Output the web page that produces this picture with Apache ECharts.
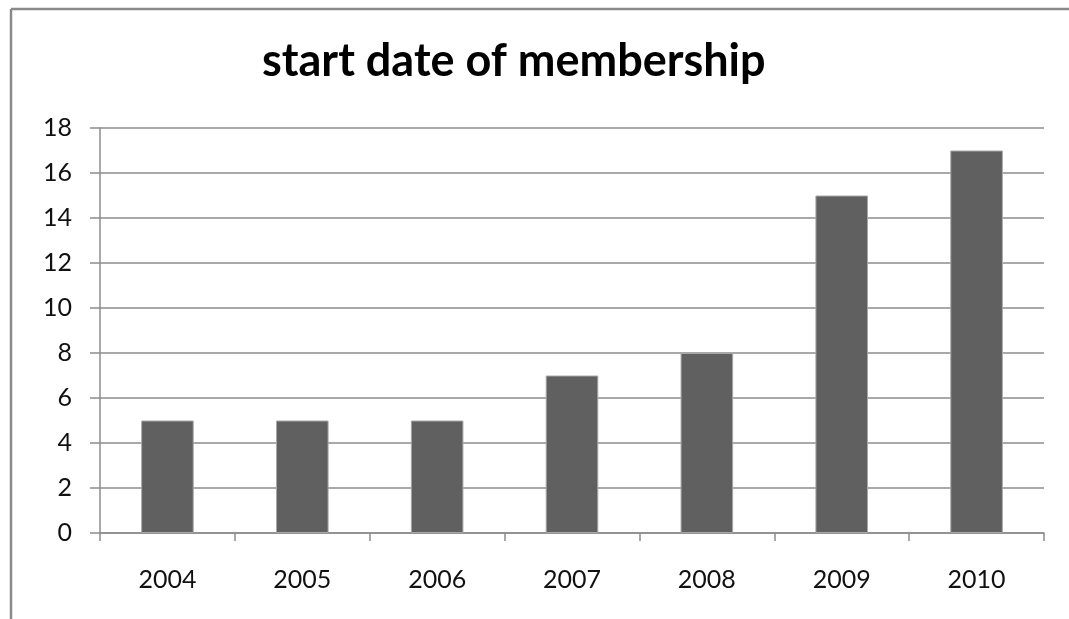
<!DOCTYPE html>
<html>
<head>
<meta charset="utf-8">
<script src="https://cdn.jsdelivr.net/npm/echarts@6/dist/echarts.min.js"></script>
<style>
  html, body { margin: 0; padding: 0; background: #fff; }
  #chart { width: 1069px; height: 619px; }
</style>
</head>
<body>
<div id="chart"></div>
<script>
// Members grouped by the year they joined
const years = ['2004', '2005', '2006', '2007', '2008', '2009', '2010'];
const memberCounts = [5, 5, 5, 7, 8, 15, 17];
const yTicks = { min: 0, max: 18, interval: 2 };

const chart = echarts.init(document.getElementById('chart'), null, { renderer: 'canvas' });
const labelFont = 'Lato, "Open Sans", sans-serif';
const frameStyle = { stroke: '#8a8a8a', lineWidth: 2.5 };

chart.setOption({
  animation: false,
  backgroundColor: '#ffffff',
  title: {
    text: 'start date of membership',
    left: 257,
    top: 34,
    textStyle: { fontFamily: labelFont, fontSize: 45, fontWeight: 'bold', color: '#000' }
  },
  graphic: [
    // outer chart frame: top and left edges (the rest runs off the page)
    { type: 'line', shape: { x1: 11, y1: 9, x2: 1069, y2: 9 }, style: frameStyle, silent: true },
    { type: 'line', shape: { x1: 11, y1: 9, x2: 11, y2: 619 }, style: frameStyle, silent: true }
  ],
  grid: { left: 100, right: 25, top: 128, bottom: 86 },
  xAxis: {
    type: 'category',
    data: years,
    axisLine: { lineStyle: { color: '#8c8c8c', width: 1.5 } },
    axisTick: { show: true, alignWithLabel: false, length: 8, lineStyle: { color: '#8c8c8c', width: 1.5 } },
    axisLabel: { fontFamily: labelFont, fontSize: 25, color: '#111', margin: 34 }
  },
  yAxis: {
    type: 'value',
    min: yTicks.min,
    max: yTicks.max,
    interval: yTicks.interval,
    axisLine: { show: true, lineStyle: { color: '#8c8c8c', width: 1.5 } },
    axisTick: { show: true, length: 10, lineStyle: { color: '#8c8c8c', width: 1.5 } },
    splitLine: { lineStyle: { color: '#8c8c8c', width: 1.5 } },
    axisLabel: { fontFamily: labelFont, fontSize: 25, color: '#111', margin: 28 }
  },
  series: [{
    type: 'bar',
    data: memberCounts,
    barWidth: '39%',
    itemStyle: { color: '#606060', borderColor: '#a8a8a8', borderWidth: 1 }
  }]
});
</script>
</body>
</html>
